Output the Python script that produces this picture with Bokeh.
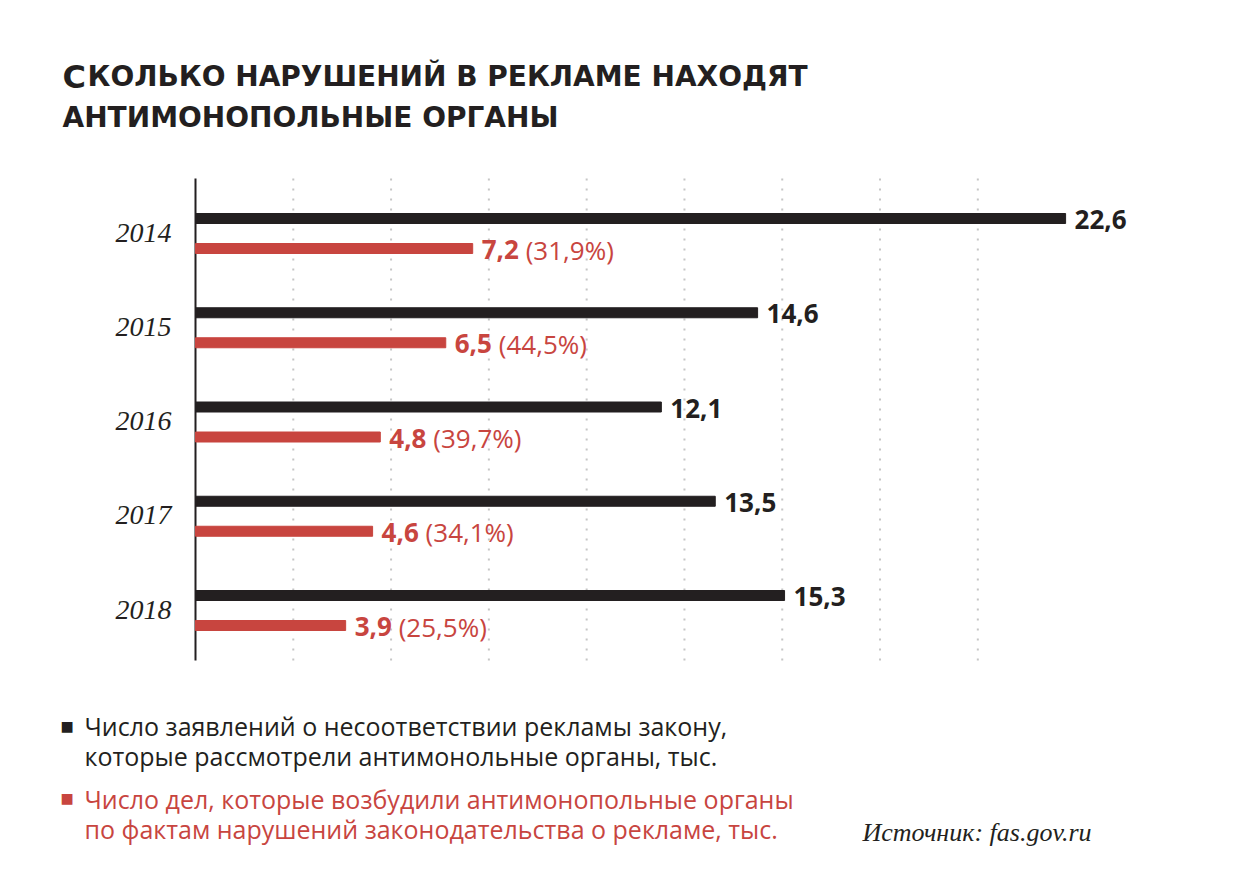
from bokeh.plotting import figure
from bokeh.models import Range1d, ColumnDataSource, Label
from bokeh.embed import file_html
from bokeh.resources import INLINE
from bokeh.core.properties import value

# ---- data ----
years = ["2014", "2015", "2016", "2017", "2018"]
complaints = [22.6, 14.6, 12.1, 13.5, 15.3]      # заявления, тыс.
cases = [7.2, 6.5, 4.8, 4.6, 3.9]                # возбуждённые дела, тыс.
case_shares = [31.9, 44.5, 39.7, 34.1, 25.5]     # % от заявлений
grid_values = [2.54, 5.08, 7.62, 10.16, 12.70, 15.24, 17.78, 20.32]

title_first = "С"
title_line1 = "КОЛЬКО НАРУШЕНИЙ В РЕКЛАМЕ НАХОДЯТ"
title_line2 = "АНТИМОНОПОЛЬНЫЕ ОРГАНЫ"
legend_black = ["Число заявлений о несоответствии рекламы закону,",
                "которые рассмотрели антимонольные органы, тыс."]
legend_red = ["Число дел, которые возбудили антимонопольные органы",
              "по фактам нарушений законодательства о рекламе, тыс."]
source_text = "Источник: fas.gov.ru"

DARK = "#231f20"
RED = "#c8453f"
GRID = "#c6c6c6"

W, H = 1250, 892
PX_X = 38.5          # pixels per thousand
PX_Y = 94.25         # pixels per year row
X0 = 195             # pixel of the value axis zero
Y0 = 233             # pixel of the first row centre
OFF = 15 / PX_Y      # bar offset from row centre
BH = 10 / PX_Y       # bar thickness
AX_TOP = (Y0 - 178) / PX_Y
AX_BOT = -(660 - Y0) / PX_Y


def fmt(v):
    return f"{v:.1f}".replace(".", ",")


ypos = [-i for i in range(len(years))]
src = ColumnDataSource(dict(
    year=years,
    y=ypos,
    yb=[v + OFF for v in ypos],
    yr=[v - OFF for v in ypos],
    complaints=complaints,
    cases=cases,
    complaints_label=[fmt(v) for v in complaints],
    cases_label=[fmt(v) for v in cases],
    share_label=[f"({fmt(s)}%)" for s in case_shares],
))
gsrc = ColumnDataSource(dict(x=grid_values,
                             y0=[AX_BOT] * len(grid_values),
                             y1=[AX_TOP] * len(grid_values)))

p = figure(width=W, height=H,
           x_range=Range1d(-X0 / PX_X, (W - X0) / PX_X),
           y_range=Range1d(-(H - Y0) / PX_Y, Y0 / PX_Y),
           x_axis_type=None, y_axis_type=None,
           output_backend="svg", toolbar_location=None, min_border=0)
p.title.visible = False
p.outline_line_color = None
p.grid.visible = False
p.background_fill_color = "white"
p.border_fill_color = "white"

# dotted grid
p.segment(x0="x", x1="x", y0="y0", y1="y1", source=gsrc, line_color=GRID,
          line_width=2, line_dash="2 8")
# value axis line
p.segment(x0=[0], x1=[0], y0=[AX_BOT], y1=[AX_TOP], line_color=DARK, line_width=2)

p.hbar(y="yb", left=0, right="complaints", height=BH, color=DARK, source=src)
p.hbar(y="yr", left=0, right="cases", height=BH, color=RED, source=src)

p.text(x=0, y="y", text="year", x_offset=-24, y_offset=-1, text_align="right",
       text_baseline="middle", text_font=value("Liberation Serif"), text_font_style="italic",
       text_font_size="28px", text_color=DARK, source=src)

p.text(x="complaints", y="yb", text="complaints_label",
       x_offset=9, y_offset=1, text_baseline="middle", text_font=value("Open Sans"),
       text_font_style="bold", text_font_size="26px", text_color=DARK, source=src)
p.text(x="cases", y="yr", text="cases_label",
       x_offset=9, y_offset=1, text_baseline="middle", text_font=value("Open Sans"),
       text_font_style="bold", text_font_size="26px", text_color=RED, source=src)
p.text(x="cases", y="yr", text="share_label",
       x_offset=53, y_offset=1, text_baseline="middle", text_font=value("Open Sans"),
       text_font_style="normal", text_font_size="26px", text_color=RED, source=src)


def lab(text, xpx, ybase, size, color=DARK, font="Open Sans", style="normal"):
    p.add_layout(Label(x=xpx, y=H - ybase, x_units="screen", y_units="screen",
                       text=text, text_font=font, text_font_size=size, text_font_style=style,
                       text_color=color, text_baseline="alphabetic", text_align="left"))


# title (small caps imitation)
lab(title_first, 62, 76, "32px", font="DejaVu Sans", style="bold")
lab(title_line1, 87, 76, "28px", font="DejaVu Sans", style="bold")
lab(title_line2, 62, 117, "28px", font="DejaVu Sans", style="bold")

# legend
lab("■", 60, 725, "14px", font="DejaVu Sans")
lab(legend_black[0], 84, 725, "25px")
lab(legend_black[1], 84, 755, "25px")
lab("■", 60, 797, "14px", color=RED, font="DejaVu Sans")
lab(legend_red[0], 84, 798, "25px", color=RED)
lab(legend_red[1], 84, 828, "25px", color=RED)

# source
lab(source_text, 862, 832, "26px", font="Liberation Serif", style="italic")

open("out.html", "w").write(file_html(p, INLINE))
